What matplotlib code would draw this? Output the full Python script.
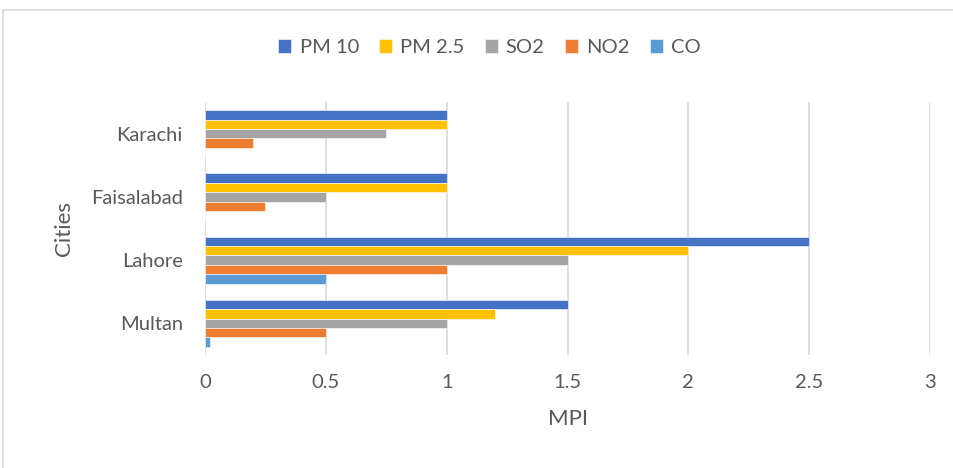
import matplotlib
matplotlib.use("Agg")
import matplotlib.pyplot as plt
from matplotlib.patches import Rectangle
import numpy as np

cities = ["Multan", "Lahore", "Faisalabad", "Karachi"]
series = ["PM 10", "PM 2.5", "SO2", "NO2", "CO"]
pm10 = [1.5, 2.5, 1.0, 1.0]
pm25 = [1.2, 2.0, 1.0, 1.0]
so2 = [1.0, 1.5, 0.5, 0.75]
no2 = [0.5, 1.0, 0.25, 0.2]
co = [0.02, 0.5, 0.0, 0.0]
colors = ["#4472C4", "#FFC000", "#A5A5A5", "#ED7D31", "#5B9BD5"]
xticks = [0, 0.5, 1, 1.5, 2, 2.5, 3]
xtick_labels = ["0", "0.5", "1", "1.5", "2", "2.5", "3"]

plt.rcParams["font.family"] = ["Lato", "DejaVu Sans"]
text_color = "#595959"

fig = plt.figure(figsize=(9.54, 4.68), dpi=100)
ax = fig.add_axes([0.2149, 0.2415, 0.76, 0.5405])

values = [pm10, pm25, so2, no2, co]
n = len(series)
bar_h = 0.148
y = np.arange(len(cities))
for i, (name, vals, c) in enumerate(zip(series, values, colors)):
    # first series sits on top within each group
    offset = (n - 1) / 2 * bar_h - i * bar_h
    ax.barh(y + offset, vals, height=bar_h, color=c, label=name,
            edgecolor="white", linewidth=0.4, zorder=3)

ax.set_xlim(0, 3)
ax.set_ylim(-0.5, len(cities) - 0.5)
ax.set_xticks(xticks)
ax.set_xticklabels(xtick_labels)
ax.set_yticks(y)
ax.set_yticklabels(cities)
ax.tick_params(axis="both", length=0, labelsize=14.5, labelcolor=text_color)
ax.tick_params(axis="x", pad=14)
ax.tick_params(axis="y", pad=16)
ax.grid(axis="x", color="#D9D9D9", linewidth=1.2, zorder=0)
for s in ax.spines.values():
    s.set_visible(False)

ax.set_xlabel("MPI", fontsize=16, color=text_color, labelpad=13)
ax.set_ylabel("Cities", fontsize=16, color=text_color, labelpad=12)

handles, labels = ax.get_legend_handles_labels()
fig.legend(handles, labels, loc="center", bbox_to_anchor=(0.513, 0.898),
           ncol=5, frameon=False, fontsize=14.5, labelcolor=text_color,
           handlelength=0.65, handleheight=0.65, handletextpad=0.4,
           columnspacing=1.0)

fig.add_artist(Rectangle((3 / 954, -0.05), 1.2, 1.05 - 10 / 468,
                         transform=fig.transFigure, fill=False,
                         edgecolor="#D9D9D9", linewidth=1.2))

fig.savefig("out.png", dpi=100, facecolor="white")
